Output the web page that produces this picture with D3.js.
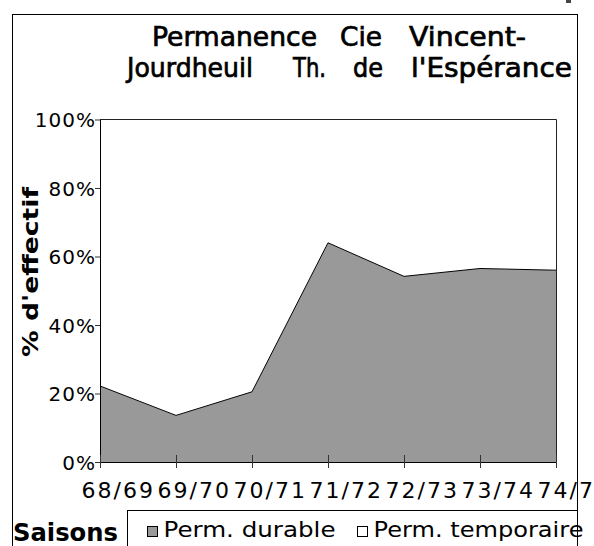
<!DOCTYPE html>
<html>
<head>
<meta charset="utf-8">
<script src="https://cdn.jsdelivr.net/npm/d3@7"></script>
<style>
  html, body { margin: 0; padding: 0; background: #fff; }
  svg { display: block; }
  text { font-family: "DejaVu Sans", sans-serif; fill: #000; }
</style>
</head>
<body>
<svg id="chart" width="594" height="546"></svg>
<script>
// ---- data ----
const categories = ["68/69", "69/70", "70/71", "71/72", "72/73", "73/74", "74/75"];
const permDurable = [22.2, 13.6, 20.5, 64.0, 54.2, 56.5, 56.0];
const permTemporaire = [77.8, 86.4, 79.5, 36.0, 45.8, 43.5, 44.0];
const seriesNames = ["Perm. durable", "Perm. temporaire"];
const yTickValues = [0, 0.2, 0.4, 0.6, 0.8, 1];
const titleLine1 = ["Permanence", "Cie", "Vincent-"];
const titleLine2 = ["Jourdheuil", "Th.", "de", "l'Espérance"];
const yTitle = "% d'effectif";
const xTitle = "Saisons";

(function () {
// ---- layout ----
const svg = d3.select("#chart");
const pLeft = 100, pRight = 556, pTop = 119.5, pBottom = 462;

// outer border
svg.append("rect").attr("x", 12.5).attr("y", 14.5)
  .attr("width", 565).attr("height", 560)
  .attr("fill", "none").attr("stroke", "#000").attr("stroke-width", 1);
svg.append("rect").attr("x", 566).attr("y", 0).attr("width", 5).attr("height", 3).attr("fill", "#444");

// title
const t1x = [152, 340, 409], t1w = [165, 42, 117];
const t2x = [127, 293, 353, 411], t2w = [126, 33, 30, 161];
function titleWords(words, xs, ws, baseline) {
  svg.append("g").selectAll("text").data(words).join("text")
    .attr("x", (d, i) => xs[i]).attr("y", baseline)
    .attr("font-size", 26)
    .attr("textLength", (d, i) => ws[i]).attr("lengthAdjust", "spacingAndGlyphs")
    .attr("stroke", "#000").attr("stroke-width", 0.7)
    .text(d => d);
}
titleWords(titleLine1, t1x, t1w, 46);
titleWords(titleLine2, t2x, t2w, 77);

// scales
const x = d3.scalePoint().domain(categories).range([pLeft, pRight]);
const y = d3.scaleLinear().domain([0, 1]).range([pBottom, pTop]);

// stacked (100%) data
const table = categories.map((c, i) => ({ cat: c, durable: permDurable[i], temporaire: permTemporaire[i] }));
const stacked = d3.stack().keys(["durable", "temporaire"]).offset(d3.stackOffsetExpand)(table);
const fills = ["#999999", "#ffffff"];

const area = d3.area()
  .x(d => x(d.data.cat))
  .y0(d => y(d[0]))
  .y1(d => y(d[1]));

svg.append("g").selectAll("path").data(stacked).join("path")
  .attr("d", area)
  .attr("fill", (d, i) => fills[i])
  .attr("stroke", "none");

// boundary line on top of durable series
svg.append("path")
  .datum(stacked[0])
  .attr("d", d3.line().x(d => x(d.data.cat)).y(d => y(d[1])))
  .attr("fill", "none").attr("stroke", "#000").attr("stroke-width", 1);

// plot frame (top and right)
svg.append("path")
  .attr("d", `M${pLeft},${pTop}H${pRight + 0.5}V${pBottom}`)
  .attr("fill", "none").attr("stroke", "#222").attr("stroke-width", 1);

// y axis
const yAxis = svg.append("g").attr("transform", `translate(${pLeft},0)`)
  .call(d3.axisLeft(y).tickValues(yTickValues).tickFormat(d3.format(".0%"))
    .tickSize(5).tickSizeOuter(0).tickPadding(-1));
yAxis.select(".domain").attr("stroke", "#000");
yAxis.selectAll(".tick line").attr("stroke", "#333");
yAxis.selectAll(".tick text")
  .attr("font-family", "DejaVu Sans, sans-serif")
  .attr("font-size", 20).attr("letter-spacing", "1px")
  .attr("dy", "0.36em").attr("fill", "#000");

// x axis
const xAxis = svg.append("g").attr("transform", `translate(0,${pBottom})`)
  .call(d3.axisBottom(x).tickSize(6).tickSizeOuter(0));
xAxis.select(".domain").attr("stroke", "#000");
xAxis.selectAll(".tick line").attr("y1", -7).attr("stroke", "#333");
xAxis.selectAll(".tick text")
  .attr("font-family", "DejaVu Sans, sans-serif")
  .attr("font-size", 22).attr("letter-spacing", "2px")
  .attr("text-anchor", "start").attr("x", -19).attr("y", 36).attr("dy", 0)
  .attr("fill", "#000");

// y title
svg.append("text")
  .attr("transform", "translate(38,357) rotate(-90)")
  .attr("font-size", 21).attr("font-weight", "bold")
  .attr("textLength", 170).attr("lengthAdjust", "spacingAndGlyphs")
  .text(yTitle);

// x title
svg.append("text")
  .attr("x", 13).attr("y", 540.5)
  .attr("font-size", 24).attr("font-weight", "bold")
  .attr("textLength", 105).attr("lengthAdjust", "spacingAndGlyphs")
  .text(xTitle);

// legend
svg.append("rect").attr("x", 127.5).attr("y", 510.5)
  .attr("width", 450).attr("height", 60)
  .attr("fill", "none").attr("stroke", "#000");
const legX = [147.5, 357.5];
const legTextW = [172, 210];
const leg = svg.append("g").selectAll("g").data(seriesNames).join("g")
  .attr("transform", (d, i) => `translate(${legX[i]},0)`);
leg.append("rect").attr("x", 0).attr("y", 526.5).attr("width", 10).attr("height", 10)
  .attr("fill", (d, i) => fills[i]).attr("stroke", "#000");
leg.append("text").attr("x", 16).attr("y", 537)
  .attr("font-size", 21)
  .attr("textLength", (d, i) => legTextW[i]).attr("lengthAdjust", "spacingAndGlyphs")
  .text(d => d);
})();
</script>
</body>
</html>
